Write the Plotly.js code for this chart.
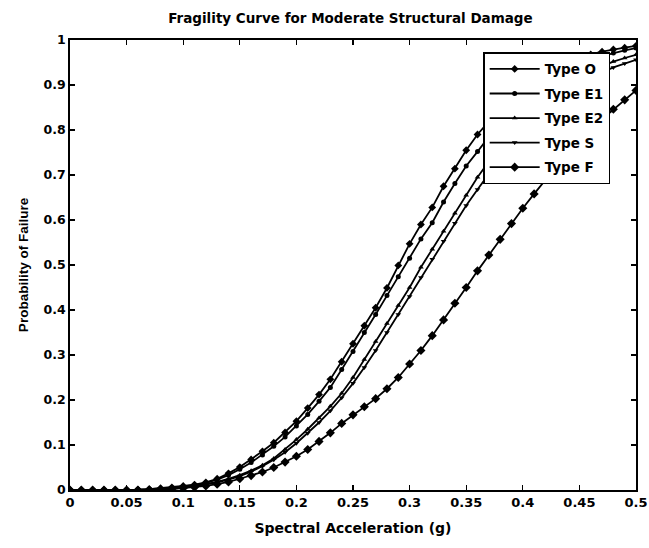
<!DOCTYPE html>
<html>
<head>
<meta charset="utf-8">
<script src="https://cdn.plot.ly/plotly-3.0.1.min.js"></script>
<style>html,body{margin:0;padding:0;background:#fff;}#chart{width:649px;height:548px;}</style>
</head>
<body>
<div id="chart"></div>
<script>
// Spectral acceleration (g), 0 to 0.5 in steps of 0.01
const accel = [0,0.01,0.02,0.03,0.04,0.05,0.06,0.07,0.08,0.09,0.10,0.11,0.12,0.13,0.14,0.15,0.16,0.17,0.18,0.19,0.20,0.21,0.22,0.23,0.24,0.25,0.26,0.27,0.28,0.29,0.30,0.31,0.32,0.33,0.34,0.35,0.36,0.37,0.38,0.39,0.40,0.41,0.42,0.43,0.44,0.45,0.46,0.47,0.48,0.49,0.50];

const typeO = [0,0,0,0,0,0,0.001,0.002,0.004,0.006,0.009,0.012,0.017,0.025,0.037,0.051,0.068,0.086,0.105,0.128,0.153,0.182,0.212,0.246,0.285,0.325,0.365,0.405,0.449,0.499,0.547,0.59,0.628,0.675,0.714,0.755,0.79,0.82,0.848,0.872,0.893,0.911,0.927,0.94,0.951,0.96,0.968,0.974,0.979,0.983,0.987];

const typeE1 = [0,0,0,0,0,0,0.001,0.002,0.003,0.005,0.008,0.011,0.016,0.023,0.033,0.046,0.061,0.078,0.097,0.118,0.142,0.168,0.197,0.228,0.268,0.308,0.35,0.39,0.432,0.474,0.515,0.558,0.594,0.64,0.681,0.72,0.752,0.785,0.815,0.842,0.866,0.887,0.905,0.921,0.935,0.946,0.956,0.964,0.971,0.977,0.982];

const typeE2 = [0,0,0,0,0,0,0.0005,0.001,0.002,0.004,0.006,0.009,0.013,0.018,0.025,0.033,0.043,0.055,0.07,0.09,0.112,0.135,0.16,0.186,0.215,0.25,0.29,0.33,0.37,0.41,0.45,0.495,0.535,0.575,0.615,0.655,0.695,0.73,0.763,0.793,0.82,0.845,0.867,0.886,0.903,0.918,0.931,0.942,0.952,0.96,0.967];

const typeS = [0,0,0,0,0,0,0.0005,0.001,0.002,0.003,0.005,0.008,0.012,0.017,0.023,0.031,0.041,0.053,0.067,0.084,0.104,0.126,0.15,0.176,0.205,0.237,0.272,0.31,0.35,0.39,0.43,0.472,0.513,0.553,0.593,0.632,0.668,0.703,0.737,0.768,0.797,0.823,0.846,0.867,0.885,0.901,0.915,0.928,0.939,0.948,0.956];

const typeF = [0,0,0,0,0,0,0,0.0005,0.001,0.002,0.004,0.006,0.009,0.013,0.018,0.025,0.032,0.04,0.05,0.062,0.075,0.09,0.108,0.127,0.148,0.167,0.185,0.203,0.225,0.25,0.28,0.31,0.343,0.378,0.415,0.45,0.487,0.522,0.557,0.592,0.626,0.658,0.69,0.72,0.748,0.775,0.8,0.824,0.846,0.867,0.888];

const seriesNames = ["Type O","Type E1","Type E2","Type S","Type F"];
const seriesData = [typeO, typeE1, typeE2, typeS, typeF];
const markerSymbols = ["diamond","circle","triangle-up","triangle-down","diamond"];
const markerSizes = [6,5,5,5,7];

const xTicks = [0,0.05,0.1,0.15,0.2,0.25,0.3,0.35,0.4,0.45,0.5];
const xTickText = ["0","0.05","0.1","0.15","0.2","0.25","0.3","0.35","0.4","0.45","0.5"];
const yTicks = [0,0.1,0.2,0.3,0.4,0.5,0.6,0.7,0.8,0.9,1];
const yTickText = ["0","0.1","0.2","0.3","0.4","0.5","0.6","0.7","0.8","0.9","1"];

const traces = seriesNames.map((name, i) => ({
  x: accel,
  y: seriesData[i],
  name: name,
  legendgroup: "g" + i,
  type: "scatter",
  mode: "lines+markers",
  line: {color: "#000", width: 1.8},
  marker: {symbol: markerSymbols[i], size: markerSizes[i], color: "#000"}
}));

const wideFont = (s) => ({family: "DejaVu Sans, Verdana, sans-serif", size: s, color: "#000", weight: "bold"});

const layout = {
  width: 649,
  height: 548,
  paper_bgcolor: "#fff",
  plot_bgcolor: "#fff",
  margin: {l: 70, r: 13, t: 40, b: 58},
  font: wideFont(13),
  title: {text: "Fragility Curve for Moderate Structural Damage", font: wideFont(13.5), x: 0.54, xanchor: "center", y: 0.967, yanchor: "middle"},
  xaxis: {
    range: [0, 0.5],
    tickvals: xTicks, ticktext: xTickText,
    ticks: "inside", ticklen: 5, tickwidth: 1.3, tickcolor: "#000",
    showline: true, linecolor: "#000", linewidth: 1.8, mirror: "ticks",
    showgrid: false, zeroline: false,
    tickfont: wideFont(13),
    title: {text: "Spectral Acceleration (g)", font: wideFont(14), standoff: 14}
  },
  yaxis: {
    range: [0, 1],
    tickvals: yTicks, ticktext: yTickText,
    ticks: "inside", ticklen: 5, tickwidth: 1.3, tickcolor: "#000",
    showline: true, linecolor: "#000", linewidth: 1.8, mirror: "ticks",
    showgrid: false, zeroline: false,
    tickfont: wideFont(12.5),
    title: {text: "Probability of Failure", font: {family: "Liberation Sans, Arial, sans-serif", size: 13.5, color: "#000", weight: "bold"}, standoff: 12}
  },
  legend: {
    x: 0.73, y: 0.973, xanchor: "left", yanchor: "top",
    bgcolor: "#fff", bordercolor: "#000", borderwidth: 1.5,
    font: wideFont(13.5),
    itemwidth: 50, tracegroupgap: 4, traceorder: "grouped"
  },
  showlegend: true
};

Plotly.newPlot("chart", traces, layout, {staticPlot: true, displayModeBar: false});
</script>
</body>
</html>
